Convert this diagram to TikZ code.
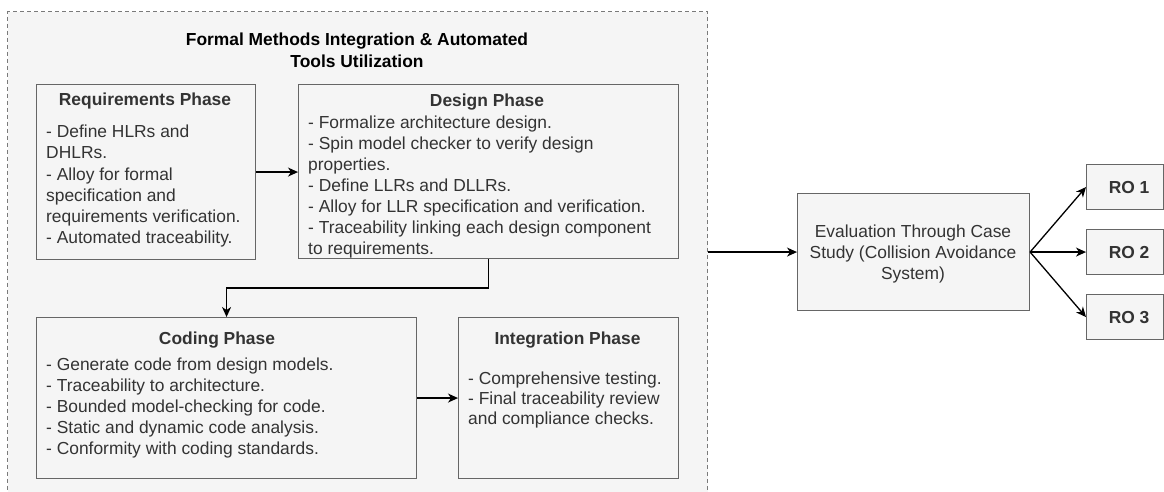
\documentclass[tikz,border=0pt]{standalone}
\usepackage{fontspec}
\setmainfont{Liberation Sans}
\usetikzlibrary{arrows.meta}
\definecolor{boxfill}{HTML}{F5F5F5}
\definecolor{boxline}{HTML}{666666}
\definecolor{boxtext}{HTML}{333333}
\definecolor{grpline}{HTML}{7A7A7A}
\begin{document}
\begin{tikzpicture}[x=1pt,y=-1pt,
  phase/.style={draw=boxline, fill=boxfill, line width=1.1pt, rectangle,
    inner sep=0, anchor=north west},
  txt/.style={font=\fontsize{17.4}{21}\selectfont, text=boxtext, inner sep=0},
  head/.style={txt, font=\fontsize{17.4}{21}\selectfont\bfseries, anchor=base},
  body/.style={txt, align=left, anchor=base west},
  flow/.style={draw=black, line width=1.3pt,
    -{Stealth[length=10pt, width=9pt, inset=3pt]}}
]
\useasboundingbox (0,0) rectangle (1164,491);

% outer dashed group; multi-line texts are placed by the baseline of their last line
\node[draw=grpline, fill=boxfill, line width=1pt, dash pattern=on 4pt off 3pt,
  rectangle, inner sep=0, anchor=north west, minimum width=700pt,
  minimum height=492pt] (grp) at (7,11) {};
\node[txt, text=black, font=\fontsize{17.4}{22}\selectfont\bfseries,
  align=center, anchor=base] (grptitle) at (357,67)
  {Formal Methods Integration \& Automated\\Tools Utilization};

% phase boxes
\node[phase, minimum width=219pt, minimum height=175pt] (req) at (36,84) {};
\node[phase, minimum width=380pt, minimum height=174pt] (des) at (298,84) {};
\node[phase, minimum width=380pt, minimum height=161pt] (cod) at (36,317) {};
\node[phase, minimum width=220pt, minimum height=161pt] (int) at (458,317) {};

\node[head] (reqtitle) at (145,105.7) {Requirements Phase};
\node[body, font=\fontsize{17.4}{21.2}\selectfont] (reqbody) at (46,243.7) {- Define HLRs and\\DHLRs.\\- Alloy for formal\\specification and\\requirements verification.\\- Automated traceability.};

\node[head] (destitle) at (487,106.7) {Design Phase};
\node[body] (desbody) at (308,254.7) {- Formalize architecture design.\\- Spin model checker to verify design\\properties.\\- Define LLRs and DLLRs.\\- Alloy for LLR specification and verification.\\- Traceability linking each design component\\to requirements.};

\node[head] (codtitle) at (217,344.7) {Coding Phase};
\node[body] (codbody) at (46,454.7) {- Generate code from design models.\\- Traceability to architecture.\\- Bounded model-checking for code.\\- Static and dynamic code analysis.\\- Conformity with coding standards.};

\node[head] (inttitle) at (567.5,344.7) {Integration Phase};
\node[body, font=\fontsize{17.4}{20}\selectfont] (intbody) at (468,424.7) {- Comprehensive testing.\\- Final traceability review\\and compliance checks.};

% evaluation and research objectives
\node[phase, minimum width=232pt, minimum height=117pt] (eval) at (797,193) {};
\node[txt, align=center, anchor=base] (evaltext) at (913,279.7)
  {Evaluation Through Case\\Study (Collision Avoidance\\System)};

\node[phase, minimum width=77pt, minimum height=45pt] (ro1) at (1086,164) {};
\node[phase, minimum width=77pt, minimum height=45pt] (ro2) at (1086,229) {};
\node[phase, minimum width=77pt, minimum height=45pt] (ro3) at (1086,294) {};
\node[head, anchor=center] (ro1text) at ([xshift=4pt]ro1.center) {RO 1};
\node[head, anchor=center] (ro2text) at ([xshift=4pt]ro2.center) {RO 2};
\node[head, anchor=center] (ro3text) at ([xshift=4pt]ro3.center) {RO 3};

% connectors
\draw[flow] (req.east) -- (des.west |- req.east);
\draw[flow] (des.south) -- ++(0,29) -| (cod.north);
\draw[flow] (cod.east) -- (int.west);
\draw[flow] (grp.east |- eval.west) -- (eval.west);
\draw[flow] (eval.east) -- (ro1.west);
\draw[flow] (eval.east) -- (ro2.west);
\draw[flow] (eval.east) -- (ro3.west);
\end{tikzpicture}
\end{document}
